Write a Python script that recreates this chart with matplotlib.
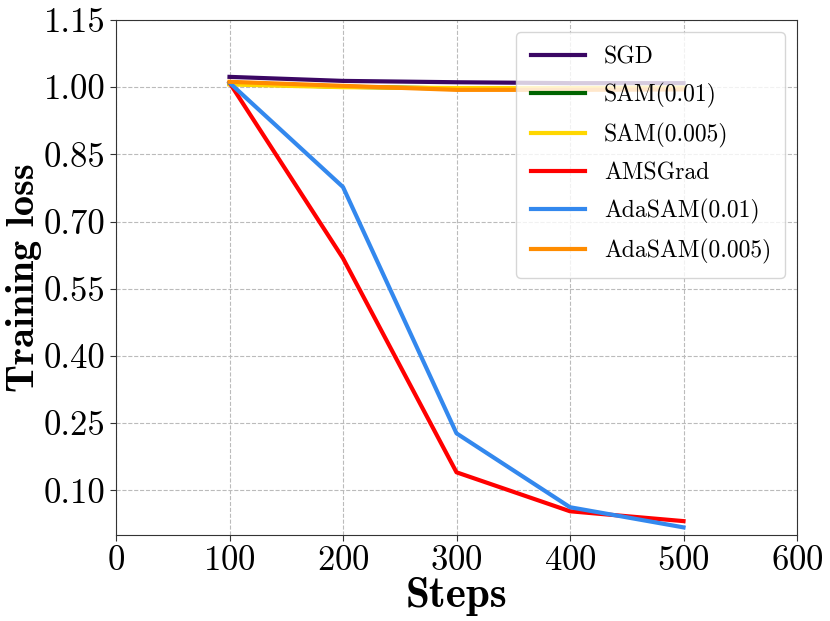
import matplotlib
matplotlib.use("Agg")
import matplotlib.pyplot as plt
import numpy as np

plt.rcParams['font.family'] = ['cmr10', 'DejaVu Serif']
plt.rcParams['mathtext.fontset'] = 'cm'
plt.rcParams['axes.formatter.use_mathtext'] = True

steps = [100, 200, 300, 400, 500]
sgd = [1.023, 1.014, 1.011, 1.009, 1.009]
sam_01 = [1.008, 1.001, 0.997, 0.997, 0.998]
sam_005 = [1.006, 1.000, 0.998, 0.998, 0.999]
amsgrad = [1.010, 0.618, 0.140, 0.053, 0.031]
adasam_01 = [1.010, 0.777, 0.227, 0.062, 0.017]
adasam_005 = [1.012, 1.003, 0.994, 0.994, 0.995]

series = [
    ("SGD", sgd, "#3b0764"),
    ("SAM(0.01)", sam_01, "#006400"),
    ("SAM(0.005)", sam_005, "#ffd700"),
    ("AMSGrad", amsgrad, "#ff0000"),
    ("AdaSAM(0.01)", adasam_01, "#3388ee"),
    ("AdaSAM(0.005)", adasam_005, "#ff8c00"),
]

fig = plt.figure(figsize=(8.3, 6.21), dpi=100)
ax = fig.add_axes([116/830, 1-535/621, (797-116)/830, (535-20)/621])

for name, vals, col in series:
    ax.plot(steps, vals, color=col, lw=3.0, label=name)

ax.set_xlim(0, 600)
ax.set_ylim(0.0, 1.15)
ax.set_xticks([0, 100, 200, 300, 400, 500, 600])
ax.set_yticks([0.10, 0.25, 0.40, 0.55, 0.70, 0.85, 1.00, 1.15])
ax.set_yticklabels(["0.10", "0.25", "0.40", "0.55", "0.70", "0.85", "1.00", "1.15"])
ax.tick_params(labelsize=25, color="#333333", length=4)
ax.grid(True, ls="--", color="#bbbbbb", lw=0.8)
for s in ax.spines.values():
    s.set_color("#333333")

ax.set_xlabel("Steps", fontsize=31, family=['cmb10', 'DejaVu Serif'], labelpad=0)
ax.set_ylabel("Training loss", fontsize=29, family=['cmb10', 'DejaVu Serif'], labelpad=1)

leg = ax.legend(loc="upper right", fontsize=17, handlelength=2.3, labelspacing=0.62,
                borderpad=0.6, handletextpad=0.8, framealpha=0.8)

fig.savefig("out.png", dpi=100)
